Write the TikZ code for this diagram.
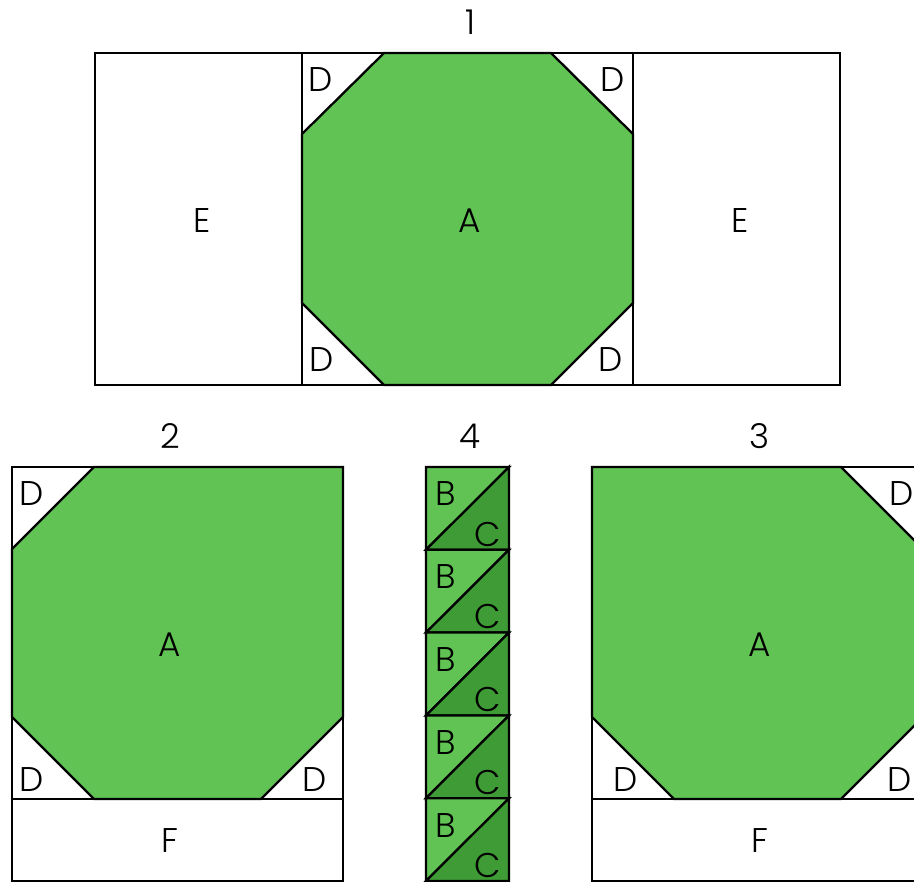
\documentclass[tikz,border=0pt]{standalone}
\usepackage{fontspec}
\setmainfont{Poppins Light}
\definecolor{leafgreen}{HTML}{61C354}
\definecolor{darkgreen}{HTML}{3F9B35}
\tikzset{
  piece/.style={draw=black, line width=1.3pt, line join=miter},
  lbl/.style={inner sep=0pt, font=\fontsize{19.5}{22}\selectfont}
}
\begin{document}
\begin{tikzpicture}[x=0.02cm, y=-0.02cm]
  \useasboundingbox (0,0) rectangle (914,882);

  % Bloque 1
  \draw[piece] (95,53) rectangle (302,385);
  \draw[piece] (633,53) rectangle (840,385);
  \draw[piece] (302,53) rectangle (633,385);
  \draw[piece, fill=leafgreen] (302,134) -- (384,53) -- (551,53) -- (633,134)
    -- (633,303) -- (551,385) -- (384,385) -- (302,303) -- cycle;
  \node[lbl] (n1) at (470,22) {1};
  \node[lbl] (e1l) at (202,221) {E};
  \node[lbl] (a1) at (470,221) {A};
  \node[lbl] (e1r) at (740,221) {E};
  \node[lbl] (d1a) at (321,80) {D};
  \node[lbl] (d1b) at (613,80) {D};
  \node[lbl] (d1c) at (322,360) {D};
  \node[lbl] (d1d) at (611,360) {D};

  % Bloque 2
  \draw[piece] (12,467) rectangle (343,799);
  \draw[piece] (12,799) rectangle (343,881);
  \draw[piece, fill=leafgreen] (12,549) -- (94,467) -- (343,467) -- (343,717)
    -- (261,799) -- (94,799) -- (12,717) -- cycle;
  \node[lbl] (n2) at (170,436) {2};
  \node[lbl] (a2) at (170,645) {A};
  \node[lbl] (f2) at (170,841) {F};
  \node[lbl] (d2a) at (32,494) {D};
  \node[lbl] (d2b) at (32,780) {D};
  \node[lbl] (d2c) at (315,780) {D};

  % Bloque 3 (cortado por el borde derecho)
  \begin{scope}
    \clip (0,0) rectangle (914,882);
    \draw[piece] (592,467) rectangle (923,799);
    \draw[piece] (592,799) rectangle (923,881);
    \draw[piece, fill=leafgreen] (592,467) -- (841,467) -- (923,549) -- (923,717)
      -- (841,799) -- (674,799) -- (592,717) -- cycle;
  \end{scope}
  \node[lbl] (n3) at (760,436) {3};
  \node[lbl] (a3) at (760,645) {A};
  \node[lbl] (f3) at (760,841) {F};
  \node[lbl] (d3a) at (902,494) {D};
  \node[lbl] (d3b) at (626,780) {D};
  \node[lbl] (d3c) at (900,780) {D};

  % Tira 4
  \node[lbl] (n4) at (470,436) {4};
  \foreach \i in {0,...,4} {
    \draw[piece, fill=leafgreen] (426,467+82.8*\i) -- (509,467+82.8*\i) -- (426,549.8+82.8*\i) -- cycle;
    \draw[piece, fill=darkgreen] (509,467+82.8*\i) -- (509,549.8+82.8*\i) -- (426,549.8+82.8*\i) -- cycle;
    \node[lbl] (b\i) at (446,494+82.8*\i) {B};
    \node[lbl] (c\i) at (487.5,534+82.8*\i) {C};
  }
\end{tikzpicture}
\end{document}
